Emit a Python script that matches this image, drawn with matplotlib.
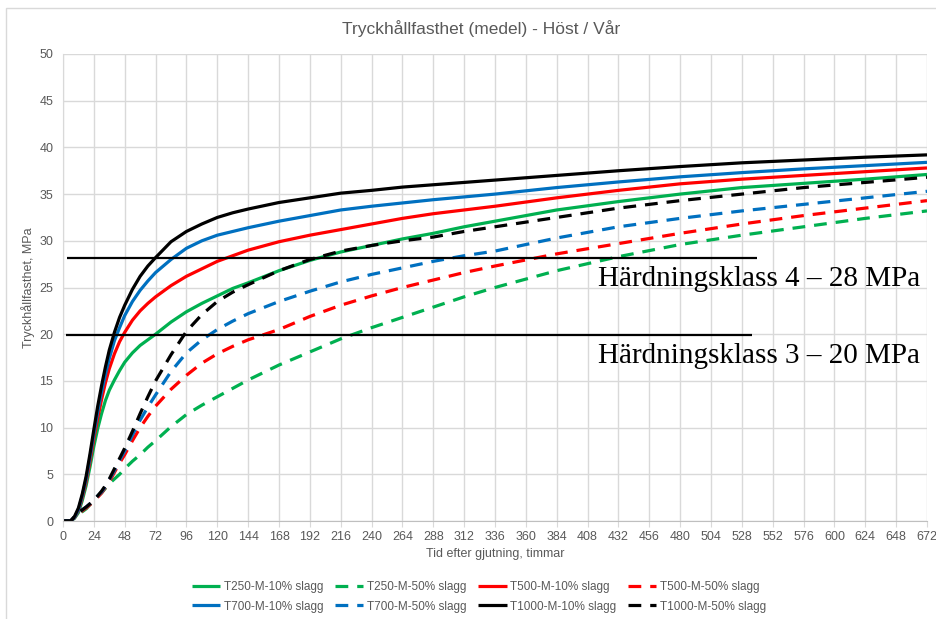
import matplotlib
matplotlib.use("Agg")
import matplotlib.pyplot as plt
from matplotlib.patches import Rectangle

# ---------------- data ----------------
hours = [0, 6, 9, 12, 15, 18, 21, 24, 27, 30, 33, 36, 40, 44, 48, 54, 60, 66, 72, 84, 96, 108, 120, 132, 144,
         168, 192, 216, 240, 264, 288, 312, 336, 384, 432, 480, 528, 576, 624, 672]

t250_10 = [0, 0, 0.3, 0.9, 2.2, 3.8, 5.8, 8.0, 9.9, 11.5, 12.9, 14.0, 15.1, 16.1, 17.0, 18.0, 18.8, 19.4, 20.0, 21.3, 22.4, 23.3, 24.1, 24.9, 25.5,
           26.8, 27.9, 28.8, 29.5, 30.2, 30.8, 31.5, 32.1, 33.3, 34.2, 35.0, 35.7, 36.15, 36.6, 37.1]
t250_50 = [0, 0, 0.35, 0.7, 1.0, 1.3, 1.75, 2.2, 2.6, 3.0, 3.5, 4.0, 4.5, 5.0, 5.6, 6.4, 7.1, 7.9, 8.6, 10.1, 11.4, 12.4, 13.3, 14.2, 15.1,
           16.7, 18.1, 19.5, 20.7, 21.8, 22.9, 24.0, 25.0, 26.8, 28.3, 29.6, 30.6, 31.5, 32.4, 33.2]
t500_10 = [0, 0, 0.35, 1.1, 2.5, 4.2, 6.4, 8.8, 11.0, 13.0, 14.8, 16.3, 17.9, 19.2, 20.2, 21.5, 22.5, 23.3, 24.0, 25.2, 26.2, 27.0, 27.8, 28.4, 29.0,
           29.9, 30.6, 31.2, 31.8, 32.4, 32.9, 33.3, 33.7, 34.6, 35.4, 36.1, 36.6, 37.0, 37.4, 37.8]
t500_50 = [0, 0, 0.4, 0.8, 1.1, 1.4, 1.75, 2.1, 2.55, 3.0, 3.6, 4.2, 5.2, 6.2, 7.1, 8.6, 10.0, 11.2, 12.3, 14.1, 15.6, 16.9, 17.9, 18.7, 19.4,
           20.5, 21.9, 23.1, 24.1, 25.0, 25.8, 26.6, 27.3, 28.6, 29.7, 30.8, 31.8, 32.7, 33.5, 34.3]
t700_10 = [0, 0, 0.4, 1.2, 2.7, 4.5, 6.8, 9.3, 11.7, 13.8, 15.7, 17.4, 19.3, 20.7, 22.0, 23.5, 24.7, 25.7, 26.6, 28.0, 29.2, 30.0, 30.6, 31.0, 31.4,
           32.1, 32.7, 33.3, 33.7, 34.05, 34.4, 34.7, 35.0, 35.7, 36.3, 36.85, 37.3, 37.7, 38.05, 38.4]
t700_50 = [0, 0, 0.45, 0.9, 1.2, 1.5, 1.85, 2.2, 2.7, 3.1, 3.7, 4.4, 5.4, 6.5, 7.5, 9.2, 10.8, 12.2, 13.5, 16.0, 18.0, 19.4, 20.5, 21.4, 22.2,
           23.5, 24.6, 25.6, 26.4, 27.1, 27.8, 28.4, 28.9, 30.3, 31.5, 32.4, 33.2, 33.9, 34.6, 35.3]
t1000_10 = [0, 0, 0.5, 1.4, 2.9, 4.8, 7.2, 9.8, 12.3, 14.5, 16.5, 18.3, 20.2, 21.8, 23.1, 24.8, 26.2, 27.3, 28.2, 29.9, 31.0, 31.8, 32.5, 33.0, 33.4,
            34.1, 34.6, 35.1, 35.4, 35.75, 36.0, 36.25, 36.5, 37.0, 37.5, 37.95, 38.35, 38.65, 38.95, 39.2]
t1000_50 = [0, 0, 0.45, 0.9, 1.2, 1.5, 1.85, 2.2, 2.7, 3.2, 3.8, 4.5, 5.6, 6.7, 7.8, 9.6, 11.5, 13.3, 15.0, 17.8, 20.3, 22.1, 23.5, 24.5, 25.3,
            26.8, 28.0, 28.9, 29.5, 30.0, 30.4, 31.0, 31.5, 32.5, 33.5, 34.3, 35.0, 35.7, 36.25, 36.8]

series_labels = ["T250-M-10% slagg", "T250-M-50% slagg", "T500-M-10% slagg", "T500-M-50% slagg",
                 "T700-M-10% slagg", "T700-M-50% slagg", "T1000-M-10% slagg", "T1000-M-50% slagg"]

class_levels = [28.2, 19.9]
class_line_ends = [[3, 540], [2.5, 536]]
class_texts = ["Härdningsklass 4 – 28 MPa", "Härdningsklass 3 – 20 MPa"]

title = "Tryckhållfasthet (medel) - Höst / Vår"
xlabel = "Tid efter gjutning, timmar"
ylabel = "Tryckhållfasthet, MPa"
xticks = list(range(0, 673, 24))
yticks = list(range(0, 51, 5))

# ---------------- plot ----------------
plt.rcParams['font.family'] = ['Liberation Sans', 'DejaVu Sans']
W, H = 936, 619
fig = plt.figure(figsize=(W / 100, H / 100), dpi=100)
fig.patch.set_facecolor('white')

# outer chart border
fig.patches.append(Rectangle((6 / W, -0.1), 1.2, 1 - 8 / H + 0.1, transform=fig.transFigure,
                             fill=False, edgecolor='#d9d9d9', linewidth=1.0))

ax = fig.add_axes([63 / W, 1 - 521 / H, (927 - 63) / W, (521 - 54) / H])
ax.set_xlim(0, 672)
ax.set_ylim(0, 50)
ax.set_xticks(xticks)
ax.set_yticks(yticks)
ax.grid(True, color='#d9d9d9', linewidth=1.0)
ax.set_axisbelow(True)
for s in ['top', 'right']:
    ax.spines[s].set_visible(False)
ax.spines['left'].set_color('#d9d9d9')
ax.spines['bottom'].set_color('#bfbfbf')
ax.tick_params(axis='x', colors='#595959', labelsize=9, length=4, color='#d9d9d9', pad=3)
ax.tick_params(axis='y', colors='#595959', labelsize=9, length=0, pad=7)
ax.set_xlabel(xlabel, color='#595959', fontsize=9, labelpad=4)
ax.set_ylabel(ylabel, color='#595959', fontsize=9, labelpad=3)

green, red, blue, black = '#00b050', '#ff0000', '#0070c0', '#000000'
dash = (0, (4.0, 2.8))
lw = 2.3
data = [t250_10, t250_50, t500_10, t500_50, t700_10, t700_50, t1000_10, t1000_50]
colors = [green, green, red, red, blue, blue, black, black]
handles = []
for i, (vals, c, lab) in enumerate(zip(data, colors, series_labels)):
    ls = '-' if i % 2 == 0 else dash
    h, = ax.plot(hours, vals, color=c, linewidth=lw, linestyle=ls, label=lab,
                 solid_capstyle='butt', dash_capstyle='butt', solid_joinstyle='round')
    handles.append(h)

for lvl, ends in zip(class_levels, class_line_ends):
    ax.plot(ends, [lvl, lvl], color='black', linewidth=1.6, solid_capstyle='butt')

fig.text(598 / W, 1 - 279 / H, class_texts[0], fontsize=21, family='Liberation Serif', va='center', ha='left')
fig.text(598 / W, 1 - 356 / H, class_texts[1], fontsize=21, family='Liberation Serif', va='center', ha='left')

fig.text(481 / W, 1 - 29 / H, title, fontsize=12.5, color='#595959', ha='center', va='center')

# legend is row-wise in the reference: reorder for matplotlib's column-major fill
order = [0, 4, 1, 5, 2, 6, 3, 7]
leg = fig.legend(handles=[handles[k] for k in order], loc='center', bbox_to_anchor=(479 / W, 1 - 597 / H), ncol=4,
                 frameon=False, fontsize=8.5, handlelength=2.4, handletextpad=0.3, columnspacing=1.0,
                 labelspacing=0.6, borderpad=0)
for txt in leg.get_texts():
    txt.set_color('#595959')

fig.savefig('out.png', dpi=100)
